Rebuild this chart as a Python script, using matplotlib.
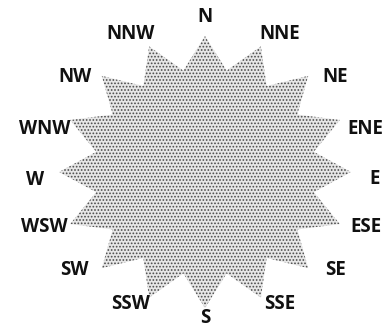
import numpy as np
import matplotlib
matplotlib.use("Agg")
import matplotlib.pyplot as plt
from matplotlib.patches import Polygon

# compass points, clockwise from north
directions = ["N", "NNE", "NE", "ENE", "E", "ESE", "SE", "SSE",
              "S", "SSW", "SW", "WSW", "W", "WNW", "NW", "NNW"]
tip_length = [1.0] * 16      # every ray reaches the same outer ring
notch_depth = 0.76           # valley between rays, as share of the outer ring

plt.rcParams['hatch.linewidth'] = 0.8

fig = plt.figure(figsize=(3.84, 3.31), dpi=100)
ax = fig.add_axes([0, 0, 1, 1])
ax.set_xlim(0, 384)
ax.set_ylim(331, 0)
ax.axis("off")

# star geometry (pixel units of the scanned page)
cx, cy = 205, 172
rx, ry = 146, 136

n = len(directions)
theta = np.deg2rad(np.arange(n) * 360.0 / n)
half = np.deg2rad(180.0 / n)

pts = []
for t, r in zip(theta, tip_length):
    pts.append((cx + rx * r * np.sin(t), cy - ry * r * np.cos(t)))
    tv = t + half
    pts.append((cx + rx * notch_depth * np.sin(tv), cy - ry * notch_depth * np.cos(tv)))

star = Polygon(pts, closed=True, facecolor="#e6e6e6", edgecolor="#4a4a4a",
               linewidth=0, hatch=".....")
ax.add_patch(star)

# labels sit on a wider ring, pushed a little towards E / W and downwards at the sides
lcy, lrx, lry = 167.5, 170, 150.5
for t, name in zip(theta, directions):
    phi = t + np.deg2rad(5) * np.sin(2 * t)
    lx = cx + lrx * np.sin(phi)
    ly = lcy - lry * np.cos(phi) + 12 * np.sin(t) ** 2
    ax.text(lx, ly, name, ha="center", va="center", fontsize=13.5,
            family="Open Sans", fontweight="bold", color="#111111")

fig.savefig("out.png", dpi=100)
